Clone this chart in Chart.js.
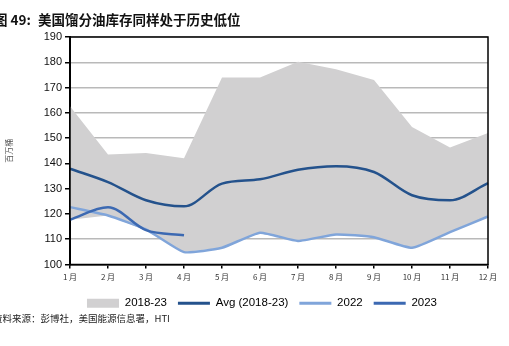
<!DOCTYPE html>
<html>
<head>
<meta charset="utf-8">
<script src="https://cdn.jsdelivr.net/npm/chart.js@4/dist/chart.umd.min.js"></script>
<style>
  body { margin: 0; background: #fff; overflow: hidden; }
  #wrap { position: relative; width: 509px; height: 346px; }
  #title { position: absolute; left: -6px; top: 9px; font: bold 13.5px "Noto Sans CJK SC", sans-serif; color: #111; white-space: nowrap; }
  #title span { margin-left: 7px; }
  #source { position: absolute; left: -7px; top: 311px; font: 9.5px "Noto Sans CJK SC", sans-serif; color: #222; white-space: nowrap; }
</style>
</head>
<body>
<div id="wrap">
  <canvas id="c" width="509" height="346"></canvas>
  <div id="title">图 49:<span>美国馏分油库存同样处于历史低位</span></div>
  <div id="source">资料来源：彭博社，美国能源信息署，HTI</div>
</div>
<script>
// months on x axis
const months = ['1 月', '2 月', '3 月', '4 月', '5 月', '6 月', '7 月', '8 月', '9 月', '10 月', '11 月', '12 月'];

// 2018-23 range (min / max), million barrels
const rangeLow = [117.7, 119.4, 113.5, 104.9, 106.6, 112.5, 109.3, 111.8, 110.8, 106.6, 112.8, 119.0];
const rangeHigh = [162.6, 143.5, 144.1, 142.0, 174.0, 174.0, 180.2, 177.2, 173.0, 154.4, 146.3, 152.0];

const avg = [137.9, 132.6, 125.4, 123.0, 132.0, 133.7, 137.5, 138.9, 136.6, 127.4, 125.4, 132.2];
const y2022 = [122.7, 119.4, 113.9, 104.9, 106.6, 112.6, 109.3, 111.9, 110.8, 106.6, 112.8, 119.0];
const y2023 = [117.7, 122.6, 113.6, 111.6, null, null, null, null, null, null, null, null];

const yTicks = [100, 110, 120, 130, 140, 150, 160, 170, 180, 190];

// black box around plot area, legend nudged to the right like the original
const frame = {
    id: 'frame',
    afterLayout(chart) {
        chart.legend.left += 18;
        chart.legend.right += 18;
    },
    afterDatasetsDraw(chart) {
        const a = chart.chartArea;
        const ctx = chart.ctx;
        ctx.save();
        ctx.strokeStyle = '#000';
        ctx.lineWidth = 1.5;
        ctx.strokeRect(a.left, a.top, a.right - a.left, a.bottom - a.top);
        ctx.restore();
    }
};

new Chart(document.getElementById('c'), {
    type: 'line',
    data: {
        labels: months,
        datasets: [
            { label: 'low', data: rangeLow, borderWidth: 0, pointRadius: 0, fill: false, order: 5 },
            { label: '2018-23', data: rangeHigh, borderWidth: 0, pointRadius: 0,
              backgroundColor: '#d1d0d1', borderColor: '#d1d0d1', fill: '-1', order: 4 },
            { label: 'Avg (2018-23)', data: avg, borderColor: '#24528c', backgroundColor: '#24528c',
              borderWidth: 2.5, pointRadius: 0, cubicInterpolationMode: 'monotone', order: 2 },
            { label: '2022', data: y2022, borderColor: '#80a5da', backgroundColor: '#80a5da',
              borderWidth: 2.5, pointRadius: 0, tension: 0.15, order: 1 },
            { label: '2023', data: y2023, borderColor: '#3c69b2', backgroundColor: '#3c69b2',
              borderWidth: 2.5, pointRadius: 0, cubicInterpolationMode: 'monotone', order: 0 }
        ]
    },
    options: {
        responsive: false,
        animation: false,
        layout: { padding: { top: 37, right: 21, bottom: 27, left: 0 } },
        plugins: {
            tooltip: { enabled: false },
            legend: {
                position: 'bottom',
                labels: {
                    filter: item => item.text !== 'low',
                    sort: (a, b) => a.datasetIndex - b.datasetIndex,
                    usePointStyle: true,
                    pointStyleWidth: 32,
                    boxHeight: 9,
                    padding: 11,
                    color: '#111',
                    font: { family: 'Liberation Sans', size: 11.5 },
                    generateLabels(chart) {
                        return chart.data.datasets.map((ds, i) => ({
                            text: ds.label,
                            datasetIndex: i,
                            fillStyle: ds.backgroundColor,
                            strokeStyle: ds.borderColor,
                            lineWidth: i === 1 ? 0 : 3,
                            pointStyle: i === 1 ? 'rect' : 'line',
                            hidden: false
                        }));
                    }
                }
            }
        },
        scales: {
            x: {
                grid: { drawOnChartArea: false, tickLength: 4, color: '#000', lineWidth: 1.5 },
                border: { color: '#000', width: 1.5 },
                ticks: { color: '#333', font: { family: 'Noto Sans CJK SC', size: 8 }, padding: 4, maxRotation: 0, autoSkip: false },
                afterFit(scale) { scale.height = 22; }
            },
            y: {
                min: 100,
                max: 190,
                afterBuildTicks(scale) { scale.ticks = yTicks.map(v => ({ value: v })); },
                grid: { color: '#b9b9b9', lineWidth: 1.5, tickLength: 5, tickColor: '#000' },
                border: { color: '#000', width: 2 },
                ticks: { color: '#111', font: { family: 'Liberation Sans', size: 11 }, padding: 3 },
                title: { display: true, text: '百万桶', color: '#555', font: { family: 'Noto Sans CJK SC', size: 8 }, padding: { top: 4, bottom: 0 } },
                afterFit(scale) { scale.width = 70; }
            }
        }
    },
    plugins: [frame]
});
</script>
</body>
</html>
